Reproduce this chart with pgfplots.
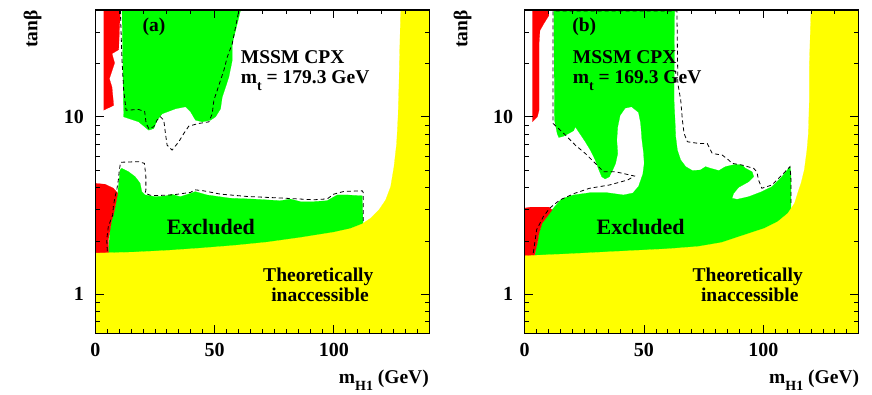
\documentclass[border=0pt]{standalone}
\usepackage{fontspec}
\setmainfont{Liberation Serif}
\usepackage{pgfplots}
\pgfplotsset{compat=1.18}
\definecolor{rgreen}{RGB}{0,255,0}
\definecolor{rred}{RGB}{255,0,0}
\definecolor{ryellow}{RGB}{255,255,0}
\newcommand\lbf{\fontsize{19.5}{20}\selectfont\bfseries}
\newcommand\lsub[1]{\raisebox{-0.38em}{\fontsize{14}{14}\selectfont\bfseries #1}}
\pgfplotsset{
 cont/.style={black, line width=0.8pt, dash pattern=on 4pt off 3pt},
 gfill/.style={fill=rgreen, draw=rgreen, line width=0.2pt},
 rfill/.style={fill=rred, draw=rred, line width=0.2pt},
 yfill/.style={fill=ryellow, draw=ryellow, line width=0.2pt},
}
\tikzset{tk/.style={black, line width=0.8pt}}
\newcommand\frameticks[1]{%
 \draw[black, line width=1.2pt] (#1pt,60.3pt) rectangle ++(334pt,323.7pt);
 \foreach \v in {5,10,...,45,55,60,...,95,105,110,...,135} {\draw[tk] ({#1pt+\v*2.3857pt},60.3pt) -- ++(0,4.5pt);}
 \foreach \v in {50,100} {\draw[tk] ({#1pt+\v*2.3857pt},60.3pt) -- ++(0,8.5pt);}
 \foreach \v in {10,20,30,40,60,70,80,90,110,120,130} {\draw[tk] ({#1pt+\v*2.3857pt},384pt) -- ++(0,-4.5pt);}
 \foreach \v in {50,100} {\draw[tk] ({#1pt+\v*2.3857pt},384pt) -- ++(0,-8.5pt);}
 \foreach \v in {0.7,0.8,0.9,2,3,4,5,6,7,8,9,20,30} {%
   \draw[tk] (#1pt,{60.3pt+77.08pt*ln(\v/0.6)}) -- ++(4.5pt,0);
   \draw[tk] ({#1pt+334pt},{60.3pt+77.08pt*ln(\v/0.6)}) -- ++(-4.5pt,0);}
 \foreach \v in {1,10} {%
   \draw[tk] (#1pt,{60.3pt+77.08pt*ln(\v/0.6)}) -- ++(8.5pt,0);
   \draw[tk] ({#1pt+334pt},{60.3pt+77.08pt*ln(\v/0.6)}) -- ++(-8.5pt,0);}
}
\begin{document}
\begin{tikzpicture}
\path (0,0) rectangle (872pt,394pt);
% ---------------- panel (a) ----------------
\begin{axis}[ymode=log, scale only axis, width=334pt, height=323.7pt, anchor=south west,
  at={(95.3pt,60.3pt)}, axis on top,
  xmin=0, xmax=140, ymin=0.6, ymax=40,
  xtick={0,50,100}, xticklabels={0,50,100}, xtick pos=left,
  minor xtick={5,10,...,135},
  ytick={1,10}, yticklabels={1,10},
  minor ytick={0.7,0.8,0.9,2,3,4,5,6,7,8,9,20,30},
  major tick length=8.5pt, minor tick length=4.5pt,
  tick style={black, line width=0.8pt},
  axis line style={black, line width=1.2pt},
  ticklabel style={font=\fontsize{20}{20}\selectfont\bfseries},
  /pgf/number format/assume math mode=true,
  yticklabel style={xshift=-8pt},
  xticklabel style={yshift=-6pt}]
% green upper
\addplot[gfill] coordinates {
(11.2,40) (11.9,10.0) (18.2,9.37) (22.4,8.41) (24.5,8.60) (25.9,9.58) (28.0,10.4)
(33.6,11.1) (37.8,11.4) (39.9,10.7) (42.0,9.58) (44.8,9.37) (48.3,9.58) (50.4,10.0)
(52.5,11.1) (53.2,12.9) (54.6,14.7) (56.0,16.8) (57.4,20.8) (57.4,25.8) (59.5,33.5) (60.9,40)
};
% green lower
\addplot[gfill] coordinates {
(4.5,1.5) (5.46,1.745) (6.2,2.31) (6.9,2.63) (7.6,2.80) (8.6,3.26) (9.4,3.71) (10.4,5.02)
(11.1,5.13) (13.9,4.91) (16.7,4.60) (18.8,4.22) (19.5,3.79) (20.9,3.63) (25.1,3.55)
(29.3,3.58) (32.1,3.66) (35.6,3.55) (39.8,3.70) (41.9,3.79) (46.8,3.63) (56.6,3.48)
(66.4,3.44) (77.6,3.37) (81.8,3.44) (86.0,3.33) (91.6,3.33) (97.2,3.37) (101.4,3.63)
(105.6,3.63) (111.9,3.59) (112.3,2.3) (112.3,1.5)
};
% red upper
\addplot[rfill] coordinates {
(3.5,40) (10.5,40) (10.1,30.7) (9.8,23.9) (7.0,22.7) (8.1,20.1) (5.9,16.4) (7.0,14.7) (7.7,11.6) (3.5,10.9)
};
% red lower
\addplot[rfill] coordinates {
(0,1.6) (0,4.22) (4.1,4.17) (7.6,3.96) (9.4,3.71) (8.6,3.26) (7.6,2.80) (6.9,2.63) (6.2,2.31) (5.5,2.03) (5.5,1.6)
};
% yellow
\addplot[yfill] coordinates {
(0,0.6) (0,1.707) (16,1.729) (30,1.767) (44,1.821) (58,1.885) (72,1.968) (86,2.09)
(100,2.239) (107,2.349) (111.9,2.494) (115.4,2.684) (118.9,2.99) (121.7,3.40) (123.8,4.04)
(125.2,5.24) (126.3,7.08) (126.9,10.0) (127.3,15.4) (127.6,23.7) (128,40) (140,40) (140,0.6)
};
% dashed contours
\addplot[cont] coordinates {
(10.5,40) (11.2,20.8) (11.9,14.1) (12.9,10.9) (18.2,11.0) (20.7,10.7) (21.3,9.18) (22.4,8.60)
(24.5,8.79) (25.9,9.58) (27.3,10.0) (28.7,9.58) (29.4,8.06) (30.1,6.93) (32.2,6.50) (35.0,7.24)
(37.1,8.06) (39.2,8.87) (43.4,9.18) (47.6,9.37) (49.0,10.4) (49.7,12.4) (51.1,14.1) (52.5,16.1)
(53.9,18.3) (55.3,21.7) (57.4,25.8) (58.8,32.1) (60.2,40)
};
\addplot[cont] coordinates {
(5.04,1.75) (4.79,2.03) (5.46,2.41) (7.3,2.80) (7.56,3.12) (8.28,3.55) (8.99,3.87) (9.66,4.41)
(10.08,5.02) (10.6,5.55) (18.1,5.59) (20.6,5.47) (21.2,4.60) (21.2,3.87) (20.9,3.71) (23.0,3.62)
(25.8,3.60) (32.8,3.64) (39.8,3.75) (41.9,3.88) (45.4,3.83) (52.4,3.67) (63.6,3.56) (77.6,3.49)
(91.6,3.41) (97.2,3.45) (100.0,3.67) (104.2,3.80) (111.9,3.83) (112.3,3.75) (112.3,2.57)
};
\end{axis}
% ---------------- panel (b) ----------------
\begin{axis}[ymode=log, scale only axis, width=334pt, height=323.7pt, anchor=south west,
  at={(524.7pt,60.3pt)}, axis on top,
  xmin=0, xmax=140, ymin=0.6, ymax=40,
  xtick={0,50,100}, xticklabels={0,50,100}, xtick pos=left,
  minor xtick={5,10,...,135},
  ytick={1,10}, yticklabels={1,10},
  minor ytick={0.7,0.8,0.9,2,3,4,5,6,7,8,9,20,30},
  major tick length=8.5pt, minor tick length=4.5pt,
  tick style={black, line width=0.8pt},
  axis line style={black, line width=1.2pt},
  ticklabel style={font=\fontsize{20}{20}\selectfont\bfseries},
  /pgf/number format/assume math mode=true,
  yticklabel style={xshift=-8pt},
  xticklabel style={yshift=-6pt}]
\addplot[gfill] coordinates {
(12.2,40) (12.5,9.59) (13.6,8.06) (14.3,7.65) (16.4,7.79) (20.5,8.35) (21.2,8.79) (22.6,8.24)
(25.4,7.24) (27.5,6.50) (29.6,5.70) (31.0,5.06) (32.3,4.60) (33.7,4.47) (35.5,4.60) (36.9,5.02)
(38.1,5.47) (39.0,6.22) (38.6,7.39) (39.0,8.79) (40.0,10.2) (42.1,11.2) (44.8,11.4) (47.7,10.6)
(48.6,9.2) (49.1,7.5) (49.8,6.3) (50.1,5.47) (49.5,4.75) (47.7,4.05) (45.3,3.72) (41.4,3.63)
(34.4,3.74) (27.5,3.74) (20.5,3.63) (16.4,3.48) (15.0,3.40) (11.5,3.0) (9.4,2.74) (7.3,2.52)
(6.0,2.21) (5.3,1.94) (4.6,1.78) (3.9,1.5) (111.6,1.5) (111.6,4.81) (111.2,5.24) (107.8,4.60)
(103.6,4.04) (99.4,3.79) (93.9,3.55) (89.0,3.43) (86.9,3.48) (87.6,3.71) (89.7,4.01) (93.9,4.31)
(96.0,4.60) (95.3,4.91) (92.5,5.13) (91.1,5.35) (88.3,5.40) (84.1,5.24) (81.4,4.98) (77.9,5.13)
(75.8,5.24) (73.7,5.02) (70.3,4.98) (67.5,5.24) (65.4,5.71) (64.0,6.50) (63.3,7.72) (63.0,9.58)
(62.6,12.4) (62.8,40)
};
\addplot[rfill] coordinates {
(3.2,40) (10.1,40) (10.1,37.2) (8.0,33.5) (6.4,30.7) (6.0,25.8) (6.0,10.9) (5.3,10.0) (3.2,9.37)
};
\addplot[rfill] coordinates {
(0,1.6) (0,3.06) (2.5,3.10) (10.1,3.10) (11.5,2.99) (9.4,2.74) (7.3,2.52) (6.0,2.21) (5.3,1.94) (4.6,1.78) (3.9,1.6)
};
\addplot[yfill] coordinates {
(0,0.6) (0,1.649) (18.6,1.691) (32.5,1.729) (46.4,1.767) (60.3,1.806) (72.8,1.861) (82.5,1.959)
(92.2,2.163) (100.6,2.358) (106.1,2.57) (110.3,2.86) (113.1,3.26) (114.4,3.71) (115.8,4.22)
(117.2,5.02) (118.3,6.50) (118.9,8.06) (119.3,12.4) (119.3,19.1) (119.7,29.4) (120,40) (140,40) (140,0.6)
};
\addplot[cont] coordinates {
(3.6,1.71) (5.0,2.31) (7.8,2.74) (10.5,3.06) (14.7,3.40) (21.0,3.71) (27.2,3.96) (35.5,4.13)
(43.2,4.41) (46.0,4.64) (37.9,4.91) (33.0,4.91) (29.6,5.47) (25.4,6.22) (21.2,6.93) (17.1,7.89)
(11.9,9.18) (11.9,39.5) (63.8,39.5) (64.2,15.4) (65.4,12.4) (66.1,9.58) (66.8,8.06) (68.2,7.24)
(73.0,7.08) (76.5,7.08) (78.6,6.22) (82.8,6.09) (85.5,5.71) (86.9,5.47) (91.1,5.35) (95.9,5.13)
(97.3,4.91) (98.0,4.41) (99.4,3.96) (103.6,4.13) (107.8,4.70) (111.2,5.24) (111.6,4.41) (111.6,3.26)
};
\end{axis}
% ---------------- frames and ticks ----------------
\frameticks{95.3}
\frameticks{524.7}
% ---------------- texts ----------------
\node[font=\lbf, inner sep=0] at (154pt,367.3pt) {(a)};
\node[font=\lbf, inner sep=0, anchor=base west] at (240.7pt,330.7pt) {MSSM CPX};
\node[font=\lbf, inner sep=0, anchor=base west] at (240.7pt,310.7pt) {m\lsub{t} = 179.3 GeV};
\node[font=\fontsize{22}{22}\selectfont\bfseries, inner sep=0] at (210.8pt,167.3pt) {Excluded};
\node[font=\lbf, inner sep=0, anchor=base] at (318.3pt,113pt) {Theoretically};
\node[font=\lbf, inner sep=0, anchor=base] at (320pt,92.3pt) {inaccessible};
\node[font=\lbf, inner sep=0, rotate=90] at (32.5pt,364.7pt) {tanβ};
\node[font=\lbf, inner sep=0, anchor=base east] at (429pt,10.5pt) {m\lsub{H1} (GeV)};
\node[font=\lbf, inner sep=0] at (584.3pt,367.3pt) {(b)};
\node[font=\lbf, inner sep=0, anchor=base west] at (572.7pt,330.7pt) {MSSM CPX};
\node[font=\lbf, inner sep=0, anchor=base west] at (572.7pt,310.7pt) {m\lsub{t} = 169.3 GeV};
\node[font=\fontsize{22}{22}\selectfont\bfseries, inner sep=0] at (640.7pt,167.3pt) {Excluded};
\node[font=\lbf, inner sep=0, anchor=base] at (747.7pt,113pt) {Theoretically};
\node[font=\lbf, inner sep=0, anchor=base] at (749.8pt,92.3pt) {inaccessible};
\node[font=\lbf, inner sep=0, rotate=90] at (462.7pt,364.7pt) {tanβ};
\node[font=\lbf, inner sep=0, anchor=base east] at (859.3pt,10.5pt) {m\lsub{H1} (GeV)};
\end{tikzpicture}
\end{document}
